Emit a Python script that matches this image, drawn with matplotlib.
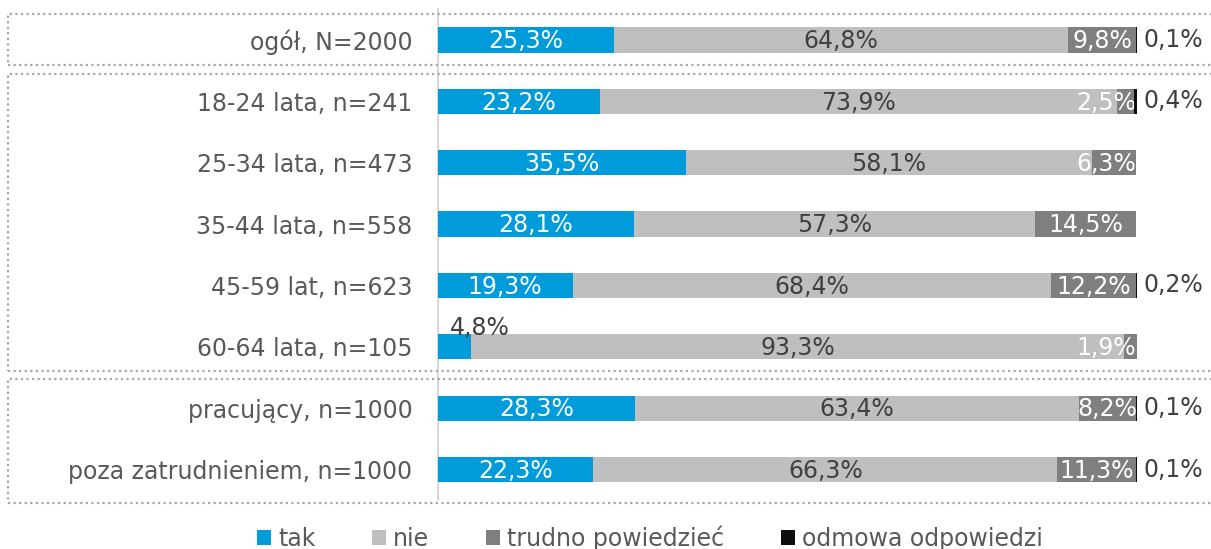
import matplotlib
matplotlib.use("Agg")
import matplotlib.pyplot as plt
from matplotlib.patches import Rectangle, Patch

plt.rcParams['font.family'] = ['DejaVu Sans']

categories = ["ogół, N=2000", "18-24 lata, n=241", "25-34 lata, n=473",
              "35-44 lata, n=558", "45-59 lat, n=623", "60-64 lata, n=105",
              "pracujący, n=1000", "poza zatrudnieniem, n=1000"]
series_names = ["tak", "nie", "trudno powiedzieć", "odmowa odpowiedzi"]
tak = [25.3, 23.2, 35.5, 28.1, 19.3, 4.8, 28.3, 22.3]
nie = [64.8, 73.9, 58.1, 57.3, 68.4, 93.3, 63.4, 66.3]
trudno = [9.8, 2.5, 6.3, 14.5, 12.2, 1.9, 8.2, 11.3]
odmowa = [0.1, 0.4, 0.0, 0.0, 0.2, 0.0, 0.1, 0.1]

colors = ["#009BDB", "#BFBFBF", "#7F7F7F", "#0D0D0D"]
label_colors = ["white", "#404040", "white", "#404040"]
text_gray = "#595959"

W, H = 1211, 549
fig = plt.figure(figsize=(W / 100, H / 100), dpi=100)


def fx(px):
    return px / W


def fy(py):
    return 1 - py / H


ax = fig.add_axes([fx(437.5), fy(500.2), fx(1137) - fx(437.5), fy(9.3) - fy(500.2)])

ypos = list(range(len(categories)))
series = [tak, nie, trudno, odmowa]
left = [0.0] * len(categories)
bar_h = 0.41
fs = 17
half_label = 3.3  # approx. half width of a "x,x%" label in percent units
for k, vals in enumerate(series):
    z = 4 if k == 3 else 2
    ax.barh(ypos, vals, left=left, height=bar_h, color=colors[k], zorder=z)
    for i, v in enumerate(vals):
        if v <= 0:
            continue
        txt = f"{v:.1f}".replace(".", ",") + "%"
        if k == 3:
            ax.text(101.0, i, txt, ha="left", va="center",
                    color="#404040", fontsize=fs, clip_on=False)
        elif k == 0 and v < 10:
            ax.text(6.1, i - 0.31, txt, ha="center", va="center",
                    color="#404040", fontsize=fs, zorder=5)
        else:
            xc = left[i] + v / 2
            if xc + half_label > 100:
                ax.text(99.9, i + 0.02, txt, ha="right", va="center",
                        color=label_colors[k], fontsize=fs, zorder=3)
            else:
                ax.text(xc, i + 0.02, txt, ha="center", va="center",
                        color=label_colors[k], fontsize=fs, zorder=3)
    left = [l + v for l, v in zip(left, vals)]

ax.set_xlim(0, 100)
ax.set_ylim(len(categories) - 0.5, -0.5)
ax.set_yticks(ypos)
ax.set_yticklabels(categories, fontsize=fs, color=text_gray)
ax.tick_params(axis="y", length=0, pad=18)
ax.set_xticks([])
for s in ["top", "right", "bottom"]:
    ax.spines[s].set_visible(False)
ax.spines["left"].set_color("#D9D9D9")
ax.spines["left"].set_linewidth(1.5)
ax.spines["left"].set_zorder(1)

# dotted group frames
for top, bottom in [(14, 65), (74, 371), (379, 503)]:
    fig.patches.append(Rectangle((fx(8), fy(bottom)), fx(1230) - fx(8), fy(top) - fy(bottom),
                                 transform=fig.transFigure, fill=False, edgecolor="#A6A6A6",
                                 linestyle=(0, (1, 1.5)), linewidth=1.6, zorder=0))

handles = [Patch(facecolor=c, edgecolor="none") for c in colors]
fig.legend(handles, series_names, loc="center", bbox_to_anchor=(fx(650), fy(538)), ncol=4,
           frameon=False, fontsize=fs, handlelength=0.6, handleheight=0.6, handletextpad=0.3,
           columnspacing=2.4, labelcolor=text_gray)

fig.savefig("out.png", dpi=100)
